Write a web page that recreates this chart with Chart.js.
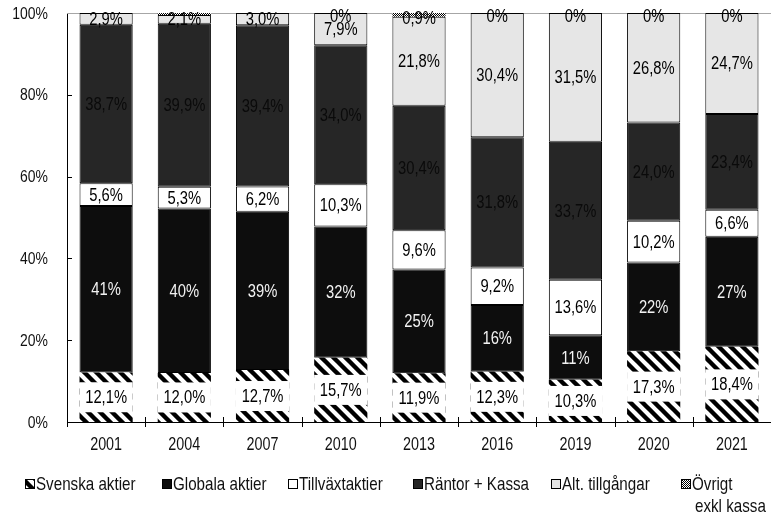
<!DOCTYPE html>
<html>
<head>
<meta charset="utf-8">
<script src="https://cdn.jsdelivr.net/npm/chart.js@4/dist/chart.umd.min.js"></script>
<style>
  html, body { margin: 0; padding: 0; background: #fff; }
  #wrap { width: 771px; height: 515px; position: relative; }
</style>
</head>
<body>
<div id="wrap"><canvas id="c" width="771" height="515"></canvas></div>
<script>
// Portfolio allocation per year, in percent of total
const years = ['2001', '2004', '2007', '2010', '2013', '2016', '2019', '2020', '2021'];
const svenskaAktier  = [12.1, 12.0, 12.7, 15.7, 11.9, 12.3, 10.3, 17.3, 18.4];
const globalaAktier  = [40.7, 40.2, 38.7, 32.1, 25.4, 16.3, 10.9, 21.7, 26.9];
const tillvaxtaktier = [5.6, 5.3, 6.2, 10.3, 9.6, 9.2, 13.6, 10.2, 6.6];
const rantorKassa    = [38.7, 39.9, 39.4, 34.0, 30.4, 31.8, 33.7, 24.0, 23.4];
const altTillgangar  = [2.9, 2.1, 3.0, 7.9, 21.8, 30.4, 31.5, 26.8, 24.7];
const ovrigt         = [0, 0.5, 0, 0, 0.9, 0, 0, 0, 0];
const ovrigtLabelShown = [false, false, false, true, true, true, true, true, true];
const yTickValues = [0, 20, 40, 60, 80, 100];

// Narrow text: Liberation Sans squeezed horizontally
const FONT = '"Liberation Sans", Arial, sans-serif';
const SQUEEZE = 0.82;
function narrowText(ctx, text, x, y, size, align, color) {
  ctx.save();
  ctx.translate(x, y);
  ctx.scale(SQUEEZE, 1);
  ctx.font = size + 'px ' + FONT;
  ctx.textAlign = align;
  ctx.textBaseline = 'middle';
  ctx.fillStyle = color;
  ctx.fillText(text, 0, 0);
  ctx.restore();
}

// Fill patterns
function hatchPattern() {
  const s = 12, c = document.createElement('canvas');
  c.width = s; c.height = s;
  const g = c.getContext('2d');
  g.fillStyle = '#fff'; g.fillRect(0, 0, s, s);
  g.strokeStyle = '#000'; g.lineWidth = 4.4;
  g.beginPath();
  for (let k = -1; k <= 1; k++) {
    g.moveTo(k * s - 2, -2); g.lineTo(k * s + s + 2, s + 2);
  }
  g.stroke();
  return g.createPattern(c, 'repeat');
}
function checkerPattern() {
  const c = document.createElement('canvas');
  c.width = 2; c.height = 2;
  const g = c.getContext('2d');
  g.fillStyle = '#fff'; g.fillRect(0, 0, 2, 2);
  g.fillStyle = '#000'; g.fillRect(0, 0, 1, 1); g.fillRect(1, 1, 1, 1);
  return g.createPattern(c, 'repeat');
}
const hatch = hatchPattern();
const checker = checkerPattern();

const pct1 = v => v.toFixed(1).replace('.', ',') + '%';
const pct0 = v => v.toFixed(0) + '%';
const pctOvr = v => (v === 0 ? '0%' : pct1(v));

const datasets = [
  { label: 'Svenska aktier', data: svenskaAktier, backgroundColor: hatch, borderWidth: 0,
    fmt: pct1, labelColor: '#000', labelBox: true, legendFill: hatch },
  { label: 'Globala aktier', data: globalaAktier, backgroundColor: '#0d0d0d', borderColor: '#000', borderWidth: 1,
    fmt: pct0, labelColor: '#f2f2f2', legendFill: '#0d0d0d' },
  { label: 'Tillväxtaktier', data: tillvaxtaktier, backgroundColor: '#ffffff', borderColor: '#000', borderWidth: 1,
    fmt: pct1, labelColor: '#000', legendFill: '#ffffff' },
  { label: 'Räntor + Kassa', data: rantorKassa, backgroundColor: '#262626', borderColor: '#000', borderWidth: 1,
    fmt: pct1, labelColor: '#0a0a0a', legendFill: '#262626' },
  { label: 'Alt. tillgångar', data: altTillgangar, backgroundColor: '#e6e6e6', borderColor: '#000', borderWidth: 1,
    fmt: pct1, labelColor: '#000', legendFill: '#e6e6e6' },
  { label: 'Övrigt', data: ovrigt, backgroundColor: checker, borderColor: '#000', borderWidth: 0,
    fmt: pctOvr, labelColor: '#000', labelShown: ovrigtLabelShown, labelDy: 3, legendFill: checker,
    legendSecondLine: 'exkl kassa' }
];

// Reference line at 100%, axis ticks and tick labels, value labels and legend
const decorations = {
  id: 'decorations',
  beforeDatasetsDraw(chart) {
    const { ctx, chartArea: a, scales: { y } } = chart;
    ctx.save();
    ctx.strokeStyle = '#a6a6a6'; ctx.lineWidth = 1;
    const yy = Math.round(y.getPixelForValue(100)) + 0.5;
    ctx.beginPath(); ctx.moveTo(a.left, yy); ctx.lineTo(a.right, yy); ctx.stroke();
    ctx.restore();
  },
  afterDatasetsDraw(chart) {
    const { ctx, chartArea: a, scales: { x, y } } = chart;
    ctx.save();
    // y ticks pointing into the plot, with labels
    ctx.strokeStyle = '#000'; ctx.lineWidth = 1;
    y.ticks.forEach(t => {
      const py = y.getPixelForValue(t.value);
      if (t.value !== 0 && t.value !== 100) {
        const ly = Math.round(py) + 0.5;
        ctx.beginPath(); ctx.moveTo(a.left, ly); ctx.lineTo(a.left + 5, ly); ctx.stroke();
      }
      narrowText(ctx, t.value + '%', a.left - 19, py + 1, 17, 'right', '#111');
    });
    // x ticks between categories, crossing the axis, with labels
    const step = (a.right - a.left) / years.length;
    for (let k = 0; k < years.length; k++) {
      const px = Math.round(a.left + k * step) + 0.5;
      ctx.beginPath(); ctx.moveTo(px, k === 0 ? a.bottom : a.bottom - 5); ctx.lineTo(px, a.bottom + 5); ctx.stroke();
    }
    x.ticks.forEach((t, i) => {
      narrowText(ctx, years[i], x.getPixelForTick(i), a.bottom + 23, 17.5, 'center', '#111');
    });
    // value labels
    chart.data.datasets.forEach((ds, i) => {
      const meta = chart.getDatasetMeta(i);
      meta.data.forEach((bar, j) => {
        const v = ds.data[j];
        if (v == null) return;
        if (ds.labelShown && !ds.labelShown[j]) return;
        const p = bar.getProps(['x', 'y', 'base', 'width'], true);
        const cy = (p.y + p.base) / 2 + (ds.labelDy || 0);
        if (ds.labelBox) {
          ctx.fillStyle = '#fff';
          ctx.fillRect(p.x - p.width / 2, cy - 15, p.width, 30);
        }
        narrowText(ctx, ds.fmt(v), p.x, cy + 1, 18, 'center', ds.labelColor);
      });
    });
    ctx.restore();
  },
  afterDraw(chart) {
    const { ctx } = chart;
    const itemX = [25, 162, 288, 413, 551, 681];
    const cy = 484, box = 10;
    ctx.save();
    chart.data.datasets.forEach((ds, i) => {
      const x0 = itemX[i];
      ctx.fillStyle = ds.legendFill;
      ctx.fillRect(x0, cy - box / 2, box, box);
      ctx.strokeStyle = '#000'; ctx.lineWidth = 1;
      ctx.strokeRect(x0 + 0.5, cy - box / 2 + 0.5, box - 1, box - 1);
      narrowText(ctx, ds.label, x0 + box + 1, cy + 1, 18.5, 'left', '#111');
      if (ds.legendSecondLine) narrowText(ctx, ds.legendSecondLine, x0 + box + 4, cy + 23, 18.5, 'left', '#111');
    });
    ctx.restore();
  }
};

new Chart(document.getElementById('c'), {
  type: 'bar',
  data: { labels: years, datasets },
  options: {
    responsive: false,
    animation: false,
    devicePixelRatio: 1,
    layout: { padding: { top: 13, right: 0, left: 0, bottom: 0 } },
    plugins: { legend: { display: false }, tooltip: { enabled: false } },
    datasets: { bar: { categoryPercentage: 1, barPercentage: 0.68, borderSkipped: false } },
    scales: {
      x: {
        stacked: true,
        grid: { display: false, drawTicks: false },
        border: { display: true, color: '#000', width: 1 },
        ticks: { display: false },
        afterFit(s) { s.height = 93; }
      },
      y: {
        stacked: true, min: 0, max: 100,
        afterBuildTicks(s) { s.ticks = yTickValues.map(v => ({ value: v })); },
        grid: { display: false, drawTicks: false },
        border: { display: true, color: '#000', width: 1 },
        ticks: { display: false },
        afterFit(s) { s.width = 67; }
      }
    }
  },
  plugins: [decorations]
});
</script>
</body>
</html>
